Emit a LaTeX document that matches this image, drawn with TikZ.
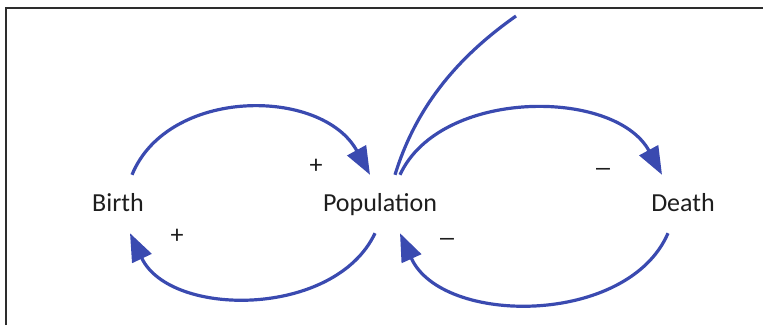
\documentclass[tikz,border=0pt]{standalone}
\usepackage{fontspec}
\setmainfont{Carlito}
\usetikzlibrary{arrows.meta}
\definecolor{loopblue}{RGB}{58,74,176}
\definecolor{framegray}{RGB}{45,45,45}
\definecolor{txt}{RGB}{30,30,30}
\tikzset{
  lbl/.style={font=\fontsize{26bp}{30bp}\selectfont, text=txt, inner sep=0pt, text height=19bp, text depth=5bp, minimum height=58bp, anchor=center},
  sgn/.style={font=\fontsize{26bp}{30bp}\selectfont, text=txt, inner sep=0pt, anchor=base},
  link/.style={draw=loopblue, line width=3.2bp},
  arr/.style={link, -{Triangle[length=28bp,width=21bp]}},
}
\begin{document}
\begin{tikzpicture}[x=1bp,y=-1bp]
\useasboundingbox (0,0) rectangle (763,325);
\draw[framegray, line width=1.6bp] (6,325) -- (6,8) -- (763,8);
\node[lbl] (birth) at (118,204) {Birth};
\node[lbl] (pop) at (380,204) {Population};
\node[lbl] (death) at (683,204) {Death};
\coordinate (top) at (516,16);
% Birth -> Population (upper)
\draw[arr] ([xshift=14bp]birth.north) .. controls (168,87) and (322,87) .. ([xshift=-10bp]pop.north);
% Population -> Birth (lower)
\draw[arr] ([xshift=-5bp]pop.south) .. controls (335,318) and (170,318) .. ([xshift=12bp]birth.south);
% Population -> Death (upper)
\draw[arr] ([xshift=20bp]pop.north) .. controls (440,88) and (615,88) .. ([xshift=-21bp]death.north);
% Death -> Population (lower)
\draw[arr] ([xshift=-15bp]death.south) .. controls (628,326) and (442,326) .. ([xshift=20bp]pop.south);
% long line upward
\draw[link] ([xshift=15bp]pop.north) .. controls (418,100) and (465,52) .. (top);
\node[sgn] (s1) at (316,173) {+};
\node[sgn] (s2) at (177,243) {+};
\node[sgn] (s3) at (603,176) {\scalebox{1.5}[1]{–}};
\node[sgn] (s4) at (447,246) {\scalebox{1.5}[1]{–}};
\end{tikzpicture}
\end{document}
